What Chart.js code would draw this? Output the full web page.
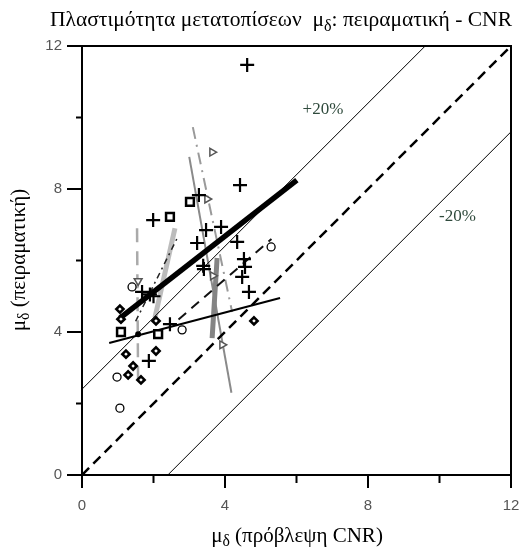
<!DOCTYPE html>
<html>
<head>
<meta charset="utf-8">
<script src="https://cdn.jsdelivr.net/npm/chart.js@4.4.0/dist/chart.umd.min.js"></script>
<style>html,body{margin:0;background:#fff}</style>
</head>
<body>
<canvas id="chart" width="524" height="550"></canvas>
<script>
// axis ticks
const majorTicks = [0, 4, 8, 12];
const minorTicks = [2, 6, 10];

// reference lines: 1:1 and +/-20% band
const equalX = [0, 12], equalY = [0, 12];
const plus20X = [0, 9.6], plus20Y = [2.4, 12];
const minus20X = [2.4, 12], minus20Y = [0, 9.6];

// markers
const plusX = [4.62, 1.99, 4.42, 3.27, 3.47, 3.89, 3.22, 4.34, 3.41, 3.39, 4.53, 4.56, 4.48, 4.67, 1.68, 1.9, 2.0, 2.46, 1.87];
const plusY = [11.47, 7.13, 8.11, 7.83, 6.85, 6.94, 6.49, 6.52, 5.76, 5.85, 6.04, 5.82, 5.54, 5.12, 5.12, 5.05, 5.0, 4.22, 3.19];
const diamondX = [1.06, 1.09, 2.07, 1.23, 2.07, 1.43, 1.29, 1.65, 4.81];
const diamondY = [4.64, 4.36, 4.31, 3.38, 3.47, 3.05, 2.80, 2.66, 4.31];
const squareX = [1.09, 2.13, 2.46, 3.02];
const squareY = [4.0, 3.94, 7.22, 7.64];
const circleX = [1.40, 2.80, 0.98, 1.06, 5.29];
const circleY = [5.26, 4.06, 2.74, 1.87, 6.38];
const triRightX = [3.64, 3.5, 3.66, 3.92];
const triRightY = [9.03, 7.72, 5.57, 3.64];
const triDownX = [1.57];
const triDownY = [5.43];
const dotX = [1.57];
const dotY = [3.94];

// regression lines of the test groups
const thickBlackX = [1.06, 6.01], thickBlackY = [4.39, 8.25];
const thinBlackX = [0.76, 5.54], thinBlackY = [3.69, 4.95];
const dashBlackX = [2.7, 5.3], dashBlackY = [4.35, 6.6];
const dashDotBlackX = [1.5, 2.7], dashDotBlackY = [4.3, 6.7];
const lightGrayX = [2.6, 2.04], lightGrayY = [6.9, 4.4];
const midGrayX = [3.78, 3.64], midGrayY = [6.07, 3.83];
const grayThinX = [3.0, 4.18], grayThinY = [8.9, 2.3];
const grayDashDotX = [3.1, 4.2], grayDashDotY = [9.73, 4.56];
const grayDashX = [1.54, 1.57], grayDashY = [6.9, 2.46];

const pts = (xs, ys) => xs.map((x, i) => ({ x: x, y: ys[i] }));

function lineSet(xs, ys, color, width, dash) {
    return {
        type: 'line', data: pts(xs, ys), borderColor: color, borderWidth: width,
        borderDash: dash || [], pointRadius: 0, fill: false, order: 2
    };
}

function markSet(xs, ys, style, radius, color, width, rot) {
    return {
        type: 'scatter', data: pts(xs, ys), pointStyle: style, pointRadius: radius,
        pointRotation: rot || 0, borderColor: color, backgroundColor: '#fff',
        borderWidth: width, order: 1
    };
}

// draws text runs, some as subscripts, centred on (cx, cy)
function drawRuns(ctx, runs, cx, cy, size, angle) {
    ctx.save();
    ctx.translate(cx, cy);
    ctx.rotate(angle || 0);
    ctx.textBaseline = 'middle';
    ctx.textAlign = 'left';
    let total = 0;
    runs.forEach(r => {
        ctx.font = (r.sub ? size * 0.75 : size) + 'px "Liberation Serif", serif';
        r.w = ctx.measureText(r.t).width;
        total += r.w;
    });
    let x = -total / 2;
    runs.forEach(r => {
        ctx.font = (r.sub ? size * 0.75 : size) + 'px "Liberation Serif", serif';
        ctx.fillStyle = '#000';
        ctx.fillText(r.t, x, r.sub ? size * 0.3 : 0);
        x += r.w;
    });
    ctx.restore();
}

const framePlugin = {
    id: 'frame',
    afterDraw(chart) {
        const ctx = chart.ctx, a = chart.chartArea;
        const xs = chart.scales.x, ys = chart.scales.y;
        ctx.save();
        ctx.strokeStyle = '#000';
        ctx.lineWidth = 2;
        ctx.strokeRect(a.left, a.top, a.right - a.left, a.bottom - a.top);
        ctx.beginPath();
        majorTicks.forEach(v => {
            const px = xs.getPixelForValue(v), py = ys.getPixelForValue(v);
            ctx.moveTo(px, a.bottom); ctx.lineTo(px, a.bottom + 13);
            ctx.moveTo(a.left, py); ctx.lineTo(a.left - 15, py);
        });
        minorTicks.forEach(v => {
            const px = xs.getPixelForValue(v), py = ys.getPixelForValue(v);
            ctx.moveTo(px, a.bottom); ctx.lineTo(px, a.bottom + 8);
            ctx.moveTo(a.left, py); ctx.lineTo(a.left - 6, py);
        });
        ctx.stroke();

        ctx.fillStyle = '#2f4a3c';
        ctx.font = '17px "Liberation Serif", serif';
        ctx.textAlign = 'center';
        ctx.textBaseline = 'middle';
        ctx.fillText('+20%', xs.getPixelForValue(6.74), ys.getPixelForValue(10.21));
        ctx.fillText('-20%', xs.getPixelForValue(10.5), ys.getPixelForValue(7.22));
        ctx.restore();

        drawRuns(ctx, [{ t: 'Πλαστιμότητα μετατοπίσεων  μ' }, { t: 'δ', sub: true }, { t: ': πειραματική - CNR' }], 281, 20, 21.5);
        drawRuns(ctx, [{ t: 'μ' }, { t: 'δ', sub: true }, { t: ' (πρόβλεψη CNR)' }], 297, 536, 21);
        drawRuns(ctx, [{ t: 'μ' }, { t: 'δ', sub: true }, { t: ' (πειραματική)' }], 19, 260, 21, -Math.PI / 2);
    }
};

const tickFont = { family: '"Liberation Sans", Arial, sans-serif', size: 15 };

new Chart(document.getElementById('chart'), {
    type: 'scatter',
    data: {
        datasets: [
            markSet(plusX, plusY, 'cross', 7, '#000', 2.2),
            markSet(diamondX, diamondY, 'rectRot', 3.6, '#000', 2.6),
            markSet(squareX, squareY, 'rect', 5.5, '#000', 2.5),
            markSet(circleX, circleY, 'circle', 4, '#000', 1.3),
            markSet(triRightX, triRightY, 'triangle', 4.5, '#555', 1.5, 90),
            markSet(triDownX, triDownY, 'triangle', 4.5, '#555', 1.5, 180),
            { type: 'scatter', data: pts(dotX, dotY), pointRadius: 3, backgroundColor: '#000', borderWidth: 0, order: 1 },
            lineSet(equalX, equalY, '#000', 2.5, [10, 6]),
            lineSet(plus20X, plus20Y, '#000', 1),
            lineSet(minus20X, minus20Y, '#000', 1),
            lineSet(thickBlackX, thickBlackY, '#000', 5.5),
            lineSet(thinBlackX, thinBlackY, '#000', 2),
            lineSet(dashBlackX, dashBlackY, '#111', 2, [10, 7]),
            lineSet(dashDotBlackX, dashDotBlackY, '#222', 1.5, [6, 4, 2, 4]),
            lineSet(lightGrayX, lightGrayY, '#bcbcbc', 5),
            lineSet(midGrayX, midGrayY, '#848484', 5),
            lineSet(grayThinX, grayThinY, '#8a8a8a', 2),
            lineSet(grayDashDotX, grayDashDotY, '#9a9a9a', 2, [12, 6, 2, 6]),
            lineSet(grayDashX, grayDashY, '#aaaaaa', 2.5, [14, 9])
        ]
    },
    options: {
        responsive: false,
        animation: false,
        layout: { padding: { top: 46, right: 13, left: 0, bottom: 0 } },
        scales: {
            x: {
                min: 0, max: 12,
                grid: { display: false, drawTicks: true, tickLength: 20 },
                border: { display: false },
                ticks: { stepSize: 4, padding: 2, color: '#555', font: tickFont },
                afterFit: s => { s.height = 75; }
            },
            y: {
                min: 0, max: 12,
                grid: { display: false, drawTicks: true, tickLength: 18 },
                border: { display: false },
                ticks: { stepSize: 4, padding: 2, color: '#555', font: tickFont },
                afterFit: s => { s.width = 82; }
            }
        },
        plugins: { legend: { display: false }, tooltip: { enabled: false } }
    },
    plugins: [framePlugin]
});
</script>
</body>
</html>
